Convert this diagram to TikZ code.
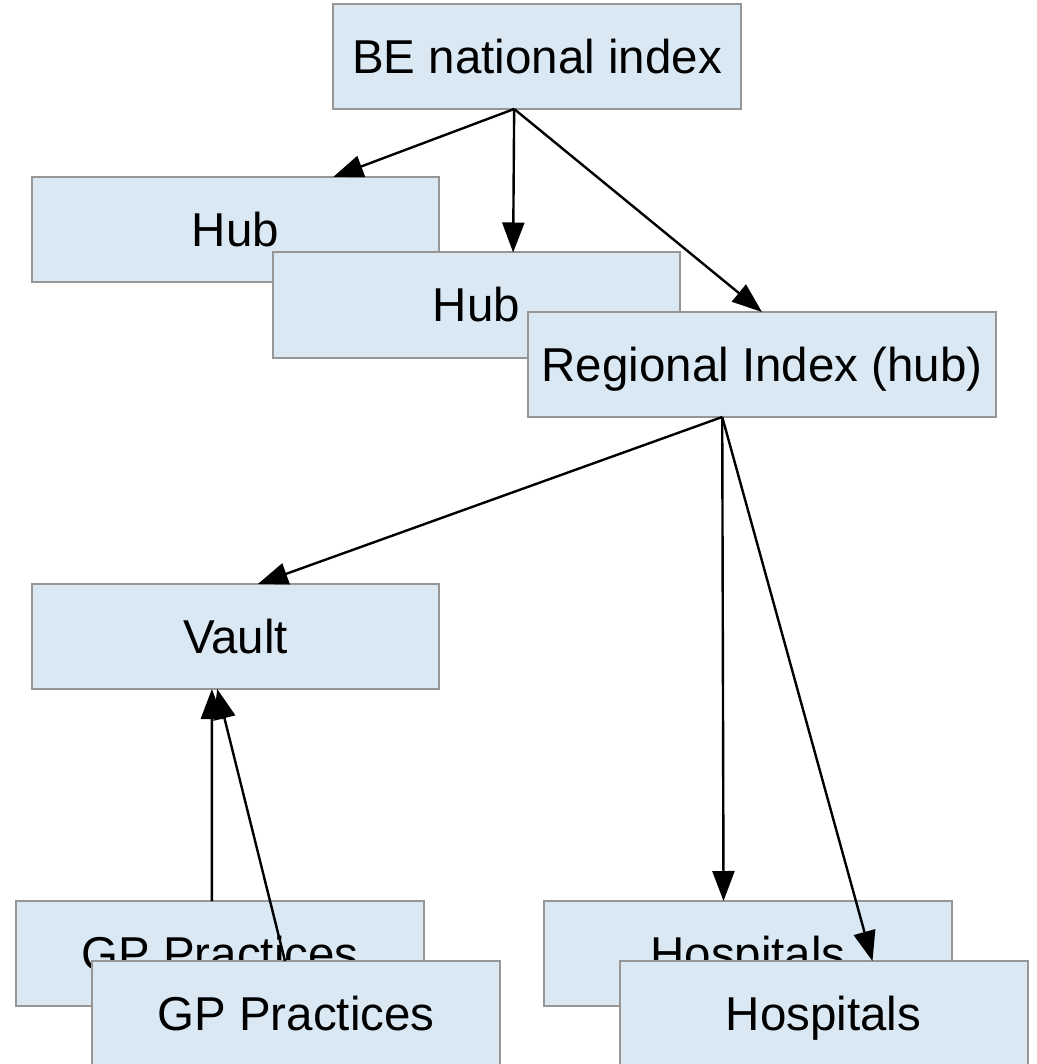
\documentclass[tikz,border=0pt]{standalone}
\usepackage{fontspec}
\setmainfont{Liberation Sans}
\usetikzlibrary{arrows.meta,calc}
\definecolor{boxfill}{RGB}{218,232,243}
\definecolor{boxline}{RGB}{150,150,150}
\begin{document}
\begin{tikzpicture}[x=1pt,y=-1pt,
  card/.style={draw=boxline,fill=boxfill,line width=2pt,rectangle,
    minimum width=407pt,minimum height=105pt,inner sep=0pt,outer sep=0pt,
    text height=33.8pt,text depth=0pt,
    font=\fontsize{47.5}{56}\selectfont},
  link/.style={line width=2.4pt,-{Triangle[length=30pt,width=22pt]}}]
\clip (0,0) rectangle (1036,1064);
\fill[white] (0,0) rectangle (1036,1064);

% boxes, back to front
\node[card,minimum width=408pt] (be) at (537,56.5) {BE national index};
\node[card] (hubA) at (235.5,229.5) {Hub};
\node[card] (hubB) at (476.5,305) {Hub};
\node[card,minimum width=468pt] (reg) at (762,364.5) {Regional Index (hub)};
\node[card] (vault) at (235.5,636.5) {Vault};
\node[card,minimum width=408pt] (gpA) at (220,953.5) {GP Practices};
\node[card,minimum width=408pt] (hospA) at (748,953.5) {Hospitals};
\node[card,minimum width=408pt] (gpB) at (296,1013.5) {GP Practices};
\node[card,minimum width=408pt] (hospB) at (823.5,1013.5) {Hospitals};

% connectors
\coordinate (beOut) at ($(be.south west)!0.444!(be.south east)$);
\coordinate (regOut) at ($(reg.south west)!0.415!(reg.south east)$);
\draw[link] (beOut) -- ($(hubA.north west)!0.74!(hubA.north east)$);
\draw[link] (beOut) -- ($(hubB.north west)!0.59!(hubB.north east)$);
\draw[link] (beOut) -- (reg.north);
\draw[link] (regOut) -- ($(vault.north west)!0.555!(vault.north east)$);
\draw[link] (regOut) -- ($(hospA.north west)!0.44!(hospA.north east)$);
\draw[link] (regOut) -- ($(hospB.north west)!0.62!(hospB.north east)$);
\draw[link] ($(gpA.north west)!0.48!(gpA.north east)$) -- ($(vault.south west)!0.442!(vault.south east)$);
\draw[link] ($(gpB.north west)!0.473!(gpB.north east)$) -- ($(vault.south west)!0.455!(vault.south east)$);
\end{tikzpicture}
\end{document}
